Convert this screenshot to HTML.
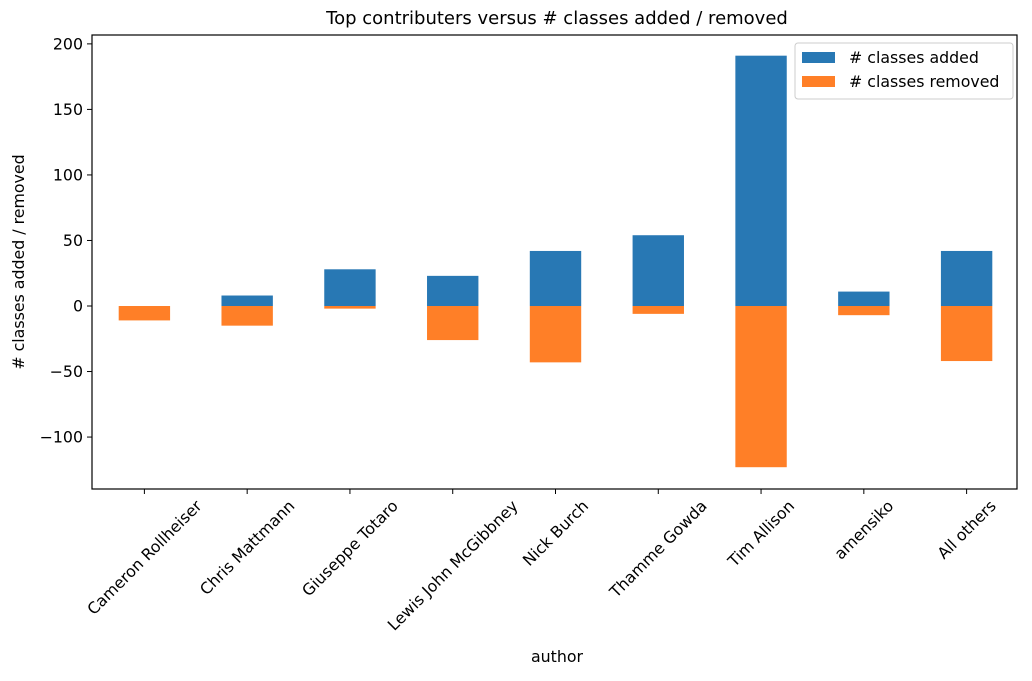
<!DOCTYPE html>
<html><head><meta charset="utf-8"><style>body{margin:0;background:#fff}svg{font-family:"DejaVu Sans","Liberation Sans",sans-serif}</style></head>
<body>
<svg id="c" width="1032" height="676" viewBox="0 0 1032 676"></svg>
<script>
const categories=["Cameron Rollheiser","Chris Mattmann","Giuseppe Totaro","Lewis John McGibbney","Nick Burch","Thamme Gowda","Tim Allison","amensiko","All others"];
const added=[0,8,28,23,42,54,191,11,42];
const removed=[-11,-15,-2,-26,-43,-6,-123,-7,-42];
const yTicks=[-100,-50,0,50,100,150,200];
const NS="http://www.w3.org/2000/svg";
const svg=document.getElementById('c');
const L=92,R=1017,T=35,B=489;
const y=v=>306-v*1.3106;
const step=(R-L)/categories.length;
const xc=i=>L+step*(i+0.5)+1;
function mk(t,a,p){const e=document.createElementNS(NS,t);for(const k in a)e.setAttribute(k,a[k]);(p||svg).appendChild(e);return e;}
const t=mk('text',{x:557,y:24,'text-anchor':'middle','font-size':18});t.textContent="Top contributers versus # classes added / removed";


categories.forEach((c,i)=>{
 const w=step*0.5;
 const a=mk('rect',{x:xc(i)-w/2,y:Math.min(y(added[i]),y(0)),width:w,height:Math.abs(y(added[i])-y(0)),fill:'#2878b4'});
 
 
 const r=mk('rect',{x:xc(i)-w/2,y:y(0),width:w,height:Math.abs(y(removed[i])-y(0)),fill:'#ff7f27'});
 
 
 mk('line',{x1:xc(i),x2:xc(i),y1:B,y2:B+5,stroke:'#000'});
 const lb=mk('text',{'font-size':15.8,'text-anchor':'middle','dominant-baseline':'central'});lb.textContent=c;
 
 
 const len=lb.getComputedTextLength();
 const h=(len+17)*0.7071;
 const cy=B+8+h/2;
 lb.setAttribute('x',xc(i));lb.setAttribute('y',cy);
 lb.setAttribute('transform','rotate(-45 '+xc(i)+' '+cy+')');
});
yTicks.forEach(v=>{
 mk('line',{x1:L-5,x2:L,y1:y(v),y2:y(v),stroke:'#000'});
 const tt=mk('text',{x:L-9,y:y(v)+5.5,'text-anchor':'end','font-size':15.8});tt.textContent=v<0?'\u2212'+(-v):v;
 
 
});
const fr=mk('rect',{x:L,y:T,width:R-L,height:B-T,fill:'none',stroke:'#000','stroke-width':1.2});


const xl=mk('text',{x:557,y:662,'text-anchor':'middle','font-size':15.8});xl.textContent='author';


const yl=mk('text',{x:24,y:262,'text-anchor':'middle','font-size':15.8,transform:'rotate(-90 24 262)'});yl.textContent='# classes added / removed';


const g=mk('g',{});


mk('rect',{x:795,y:43,width:218,height:56,rx:3,fill:'#fff','fill-opacity':0.8,stroke:'#ccc'},g);
[['# classes added','#2878b4',57],['# classes removed','#ff7f27',81]].forEach(([s,col,yy])=>{
 mk('rect',{x:802,y:yy-5,width:33,height:11,fill:col},g);
 const e=mk('text',{x:849,y:yy+6,'font-size':15.8},g);e.textContent=s;
 
 
});
</script>
</body></html>
